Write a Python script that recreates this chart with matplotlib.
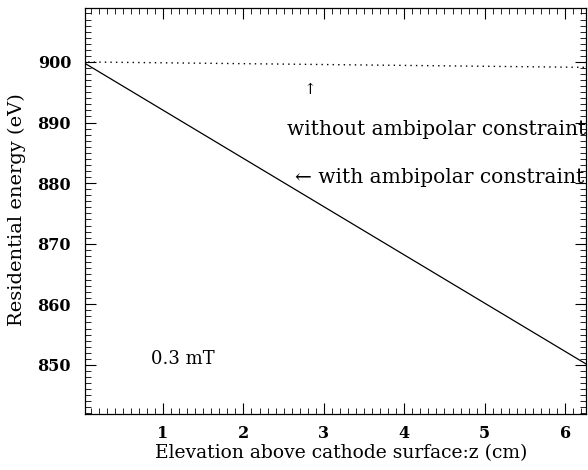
import numpy as np
import matplotlib
matplotlib.use("Agg")
import matplotlib.pyplot as plt
from matplotlib.ticker import MultipleLocator

# Data
z_with = [0.0, 6.28]
e_with = [900.0, 850.0]
z_without = [0.0, 6.28]
e_without = [900.0, 899.1]
xticks = [1, 2, 3, 4, 5, 6]
yticks = [850, 860, 870, 880, 890, 900]

plt.rcParams['font.family'] = ['DejaVu Serif']
fig = plt.figure(figsize=(5.88, 4.70), dpi=100)
ax = fig.add_axes([85/588, 1-414/470, 501/588, 406/470])

ax.plot(z_with, e_with, color='black', lw=0.9)
ax.plot(z_without, e_without, color='black', lw=1.0, linestyle=(0, (1, 3)))

ax.set_xlim(0.03, 6.26)
ax.set_ylim(841.9, 908.9)
ax.set_xticks(xticks)
ax.set_yticks(yticks)
ax.xaxis.set_minor_locator(MultipleLocator(0.1))
ax.yaxis.set_minor_locator(MultipleLocator(1))
ax.tick_params(which='both', direction='in', top=True, right=True, labelsize=11.5)
ax.tick_params(which='major', length=8, width=0.8)
ax.tick_params(which='minor', length=4, width=0.6)
ax.tick_params(axis='x', pad=8)
ax.tick_params(axis='y', pad=10)
for lab in ax.get_xticklabels() + ax.get_yticklabels():
    lab.set_fontweight('bold')
for s in ax.spines.values():
    s.set_linewidth(0.9)

fig.text(341/588, 1-453/470, 'Elevation above cathode surface:z (cm)', fontsize=13.5,
         ha='center', va='center')
fig.text(17/588, 1-210/470, 'Residential energy (eV)', fontsize=14, rotation=90,
         ha='center', va='center')

ax.text(2.83, 895.3, '↑', fontsize=11, ha='center', va='center')
ax.text(2.54, 888.8, 'without ambipolar constraint', fontsize=14.5, ha='left', va='center', clip_on=False)
ax.text(2.64, 881.0, '← with ambipolar constraint', fontsize=14.5, ha='left', va='center', clip_on=False)
ax.text(0.85, 851.0, '0.3 mT', fontsize=13, ha='left', va='center')

fig.savefig('out.png', dpi=100)
